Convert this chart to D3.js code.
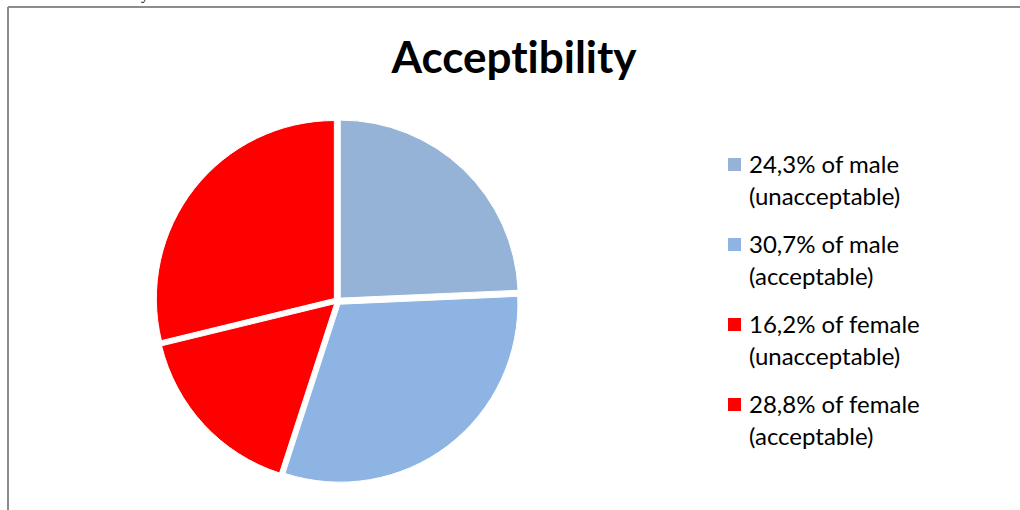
<!DOCTYPE html>
<html lang="en">
<head>
  <meta charset="UTF-8">
  <title>Acceptibility</title>
  <script src="https://d3js.org/d3.v7.min.js"></script>
  <style>
    body { margin: 0; background: #fff; }
    svg { display: block; }
    text { font-variant-ligatures: none; }
  </style>
</head>
<body>
  <div id="canvas"></div>
  <script>
    const labels = ['24,3% of male', '30,7% of male', '16,2% of female', '28,8% of female'];
    const subLabels = ['(unacceptable)', '(acceptable)', '(unacceptable)', '(acceptable)'];
    const values = [24.3, 30.7, 16.2, 28.8];
    const colors = ['#95B3D7', '#8EB4E3', '#FF0000', '#FF0000'];

    const width = 1020;
    const height = 510;
    const cx = 337.5;
    const cy = 301;
    const radius = 178;
    const explode = 4;
    const font = "Lato, 'Open Sans', sans-serif";

    const svg = d3.select('#canvas')
      .append('svg')
      .attr('width', width)
      .attr('height', height);

    // frame (only top + left visible)
    svg.append('line')
      .attr('x1', 8).attr('y1', 7).attr('x2', width).attr('y2', 7)
      .attr('stroke', '#8c8c8c').attr('stroke-width', 2);
    svg.append('line')
      .attr('x1', 8).attr('y1', 7).attr('x2', 8).attr('y2', height)
      .attr('stroke', '#8c8c8c').attr('stroke-width', 2);

    // stray glyph cut off at the top edge
    svg.append('text')
      .attr('x', 141).attr('y', -1)
      .style('font-family', "'Liberation Serif', serif")
      .style('font-size', '16px')
      .text('y');

    svg.append('text')
      .attr('x', 514)
      .attr('y', 73)
      .attr('text-anchor', 'middle')
      .style('font-family', font)
      .style('font-weight', 'bold')
      .style('font-size', '44px')
      .text('Acceptibility');

    const pie = d3.pie().sort(null).value(d => d);
    const arc = d3.arc().innerRadius(0).outerRadius(radius);
    const arcs = pie(values);

    svg.append('g')
      .attr('transform', 'translate(' + cx + ',' + cy + ')')
      .selectAll('path')
      .data(arcs)
      .enter()
      .append('path')
      .attr('transform', d => {
        const a = (d.startAngle + d.endAngle) / 2;
        return 'translate(' + (explode * Math.sin(a)) + ',' + (-explode * Math.cos(a)) + ')';
      })
      .attr('d', arc)
      .attr('fill', (d, i) => colors[i])
      .attr('stroke', '#fff')
      .attr('stroke-width', 1);

    const legend = svg.append('g')
      .selectAll('g')
      .data(labels)
      .enter()
      .append('g')
      .attr('transform', (d, i) => 'translate(728,' + (158 + i * 80) + ')');

    legend.append('rect')
      .attr('width', 13).attr('height', 13)
      .attr('fill', (d, i) => colors[i]);

    legend.append('text')
      .attr('x', 21).attr('y', 15)
      .style('font-family', font)
      .style('font-size', '24px')
      .attr('fill', '#000')
      .text(d => d);

    legend.append('text')
      .attr('x', 21).attr('y', 47)
      .style('font-family', font)
      .style('font-size', '24px')
      .attr('fill', '#000')
      .text((d, i) => subLabels[i]);
  </script>
</body>
</html>
